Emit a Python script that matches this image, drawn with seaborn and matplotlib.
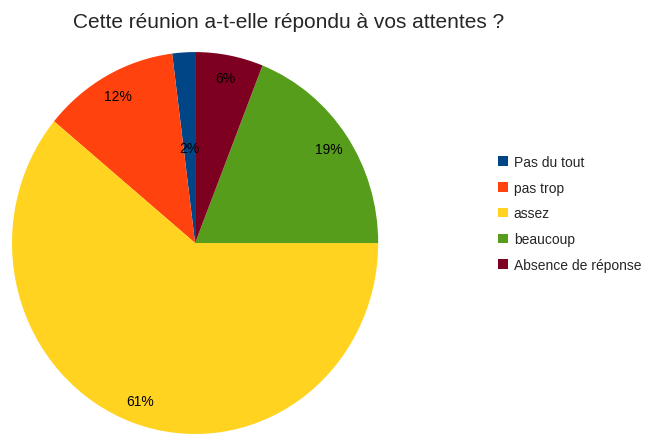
import numpy as np
import pandas as pd
import matplotlib
matplotlib.use("Agg")
import matplotlib.pyplot as plt
import seaborn as sns

sns.set_theme(style="white")
plt.rcParams['font.family'] = ['Liberation Sans', 'DejaVu Sans']

title = "Cette réunion a-t-elle répondu à vos attentes ?"
categories = ["Pas du tout", "pas trop", "assez", "beaucoup", "Absence de réponse"]
percents = [2, 12, 61, 19, 6]
colors = ["#004586", "#ff420e", "#ffd320", "#579d1c", "#7e0021"]

df = pd.DataFrame({"categorie": categories, "pct": percents})

fig = plt.figure(figsize=(6.67, 4.35), dpi=100)
ax = fig.add_axes([0.018, 0.0, 0.549, 0.878])

wedges, texts, autotexts = ax.pie(
    df["pct"], colors=colors, startangle=90, counterclock=True,
    autopct=lambda p: f"{p:.0f}%", pctdistance=0.88, radius=1,
    textprops={"fontsize": 10, "color": "black"},
    wedgeprops={"linewidth": 0},
)
# the smallest slice label sits further inside
for w, t in zip(wedges, autotexts):
    if (w.theta2 - w.theta1) < 10:
        mid = np.deg2rad((w.theta1 + w.theta2) / 2)
        t.set_position((0.5 * np.cos(mid), 0.5 * np.sin(mid)))
ax.set_aspect("auto")
ax.set_xlim(-1, 1)
ax.set_ylim(-1, 1)
ax.axis("off")

fig.text(0.11, 0.948, title, fontsize=15, ha="left", va="center")

fig.legend(wedges, categories, loc="center left", bbox_to_anchor=(0.738, 0.507),
           frameon=False, fontsize=10, handlelength=0.7, handleheight=0.7,
           handletextpad=0.45, labelspacing=0.85, borderaxespad=0)

fig.savefig("out.png", dpi=100)
